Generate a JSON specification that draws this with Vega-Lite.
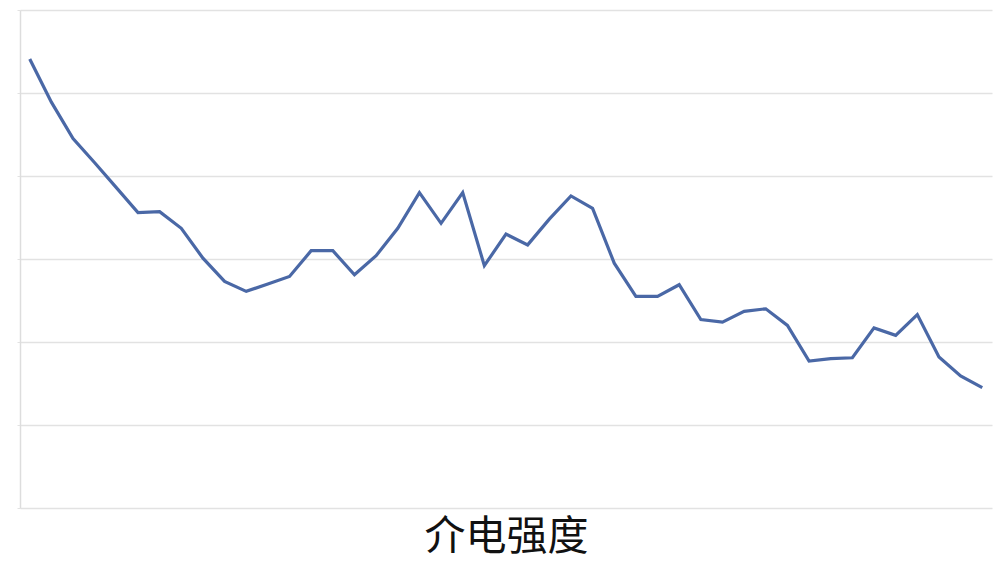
{
  "$schema": "https://vega.github.io/schema/vega-lite/v6.json",
  "description": "介电强度 trend line",
  "autosize": "none",
  "width": 972,
  "height": 498,
  "padding": {"left": 20, "top": 10, "right": 10, "bottom": 66},
  "background": "white",
  "config": {"view": {"stroke": null}, "font": "Noto Sans CJK SC"},
  "data": {
    "values": [
      {"i": 0, "v": 54.1}, {"i": 1, "v": 48.9}, {"i": 2, "v": 44.5}, {"i": 3, "v": 41.6},
      {"i": 4, "v": 38.6}, {"i": 5, "v": 35.6}, {"i": 6, "v": 35.7}, {"i": 7, "v": 33.7},
      {"i": 8, "v": 30.1}, {"i": 9, "v": 27.3}, {"i": 10, "v": 26.1}, {"i": 11, "v": 27.0},
      {"i": 12, "v": 27.9}, {"i": 13, "v": 31.0}, {"i": 14, "v": 31.0}, {"i": 15, "v": 28.1},
      {"i": 16, "v": 30.4}, {"i": 17, "v": 33.7}, {"i": 18, "v": 38.0}, {"i": 19, "v": 34.3},
      {"i": 20, "v": 38.0}, {"i": 21, "v": 29.2}, {"i": 22, "v": 33.0}, {"i": 23, "v": 31.7},
      {"i": 24, "v": 34.8}, {"i": 25, "v": 37.6}, {"i": 26, "v": 36.1}, {"i": 27, "v": 29.5},
      {"i": 28, "v": 25.5}, {"i": 29, "v": 25.5}, {"i": 30, "v": 26.9}, {"i": 31, "v": 22.7},
      {"i": 32, "v": 22.4}, {"i": 33, "v": 23.7}, {"i": 34, "v": 24.0}, {"i": 35, "v": 22.0},
      {"i": 36, "v": 17.7}, {"i": 37, "v": 18.0}, {"i": 38, "v": 18.1}, {"i": 39, "v": 21.7},
      {"i": 40, "v": 20.8}, {"i": 41, "v": 23.3}, {"i": 42, "v": 18.2}, {"i": 43, "v": 15.9},
      {"i": 44, "v": 14.5}
    ]
  },
  "mark": {"type": "line", "color": "#4a68a6", "strokeWidth": 3.2, "strokeJoin": "miter"},
  "encoding": {
    "x": {
      "field": "i",
      "type": "ordinal",
      "scale": {"type": "point", "padding": 0.45},
      "axis": {
        "title": "介电强度",
        "titleFont": "Noto Sans CJK SC",
        "titleFontSize": 41,
        "titleFontWeight": "normal",
        "titleColor": "#111111",
        "titlePadding": 9,
        "labels": false,
        "ticks": false,
        "domain": false,
        "grid": false
      }
    },
    "y": {
      "field": "v",
      "type": "quantitative",
      "scale": {"domain": [0, 60], "nice": false, "zero": true},
      "axis": {
        "title": null,
        "labels": false,
        "values": [0, 10, 20, 30, 40, 50, 60],
        "grid": true,
        "gridColor": "#e2e2e2",
        "gridWidth": 1.5,
        "domain": true,
        "domainColor": "#dddddd",
        "domainWidth": 1.5,
        "ticks": true,
        "tickSize": 3,
        "tickColor": "#e2e2e2"
      }
    }
  }
}
